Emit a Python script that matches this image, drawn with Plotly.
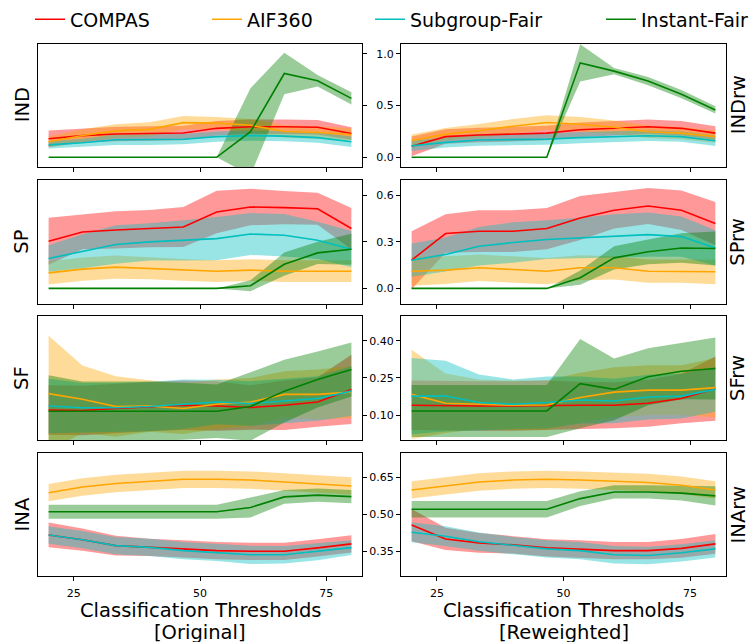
import plotly.graph_objects as go

# ---------------- data ----------------
thresholds = [20, 26.7, 33.3, 40, 46.7, 53.3, 60, 66.7, 73.3, 80]
methods = ["COMPAS", "AIF360", "Subgroup-Fair", "Instant-Fair"]
x_ticks = [25, 50, 75]

# IND (original)
ind_compas = [0.18, 0.21, 0.225, 0.23, 0.235, 0.28, 0.295, 0.295, 0.29, 0.23]
ind_compas_sd = [0.08, 0.07, 0.07, 0.07, 0.07, 0.07, 0.07, 0.07, 0.07, 0.06]
ind_aif = [0.15, 0.21, 0.255, 0.27, 0.335, 0.33, 0.31, 0.25, 0.24, 0.22]
ind_aif_sd = [0.05, 0.06, 0.065, 0.07, 0.065, 0.06, 0.06, 0.06, 0.06, 0.06]
ind_sub = [0.12, 0.14, 0.17, 0.17, 0.175, 0.2, 0.21, 0.205, 0.19, 0.15]
ind_sub_sd = [0.035, 0.04, 0.05, 0.05, 0.05, 0.05, 0.05, 0.05, 0.05, 0.05]
ind_inst = [0, 0, 0, 0, 0, 0, 0.247, 0.81, 0.74, 0.57]
ind_inst_sd = [0, 0, 0, 0, 0, 0, 0.42, 0.2, 0.055, 0.06]

# IND (reweighted)
indrw_compas = [0.106, 0.2, 0.215, 0.224, 0.234, 0.266, 0.28, 0.295, 0.28, 0.234]
indrw_compas_sd = [0.095, 0.07, 0.07, 0.07, 0.07, 0.07, 0.07, 0.07, 0.07, 0.065]
indrw_aif = [0.16, 0.224, 0.256, 0.3, 0.336, 0.32, 0.29, 0.247, 0.234, 0.2]
indrw_aif_sd = [0.06, 0.06, 0.065, 0.07, 0.07, 0.07, 0.065, 0.06, 0.06, 0.06]
indrw_sub = [0.11, 0.144, 0.167, 0.17, 0.176, 0.19, 0.2, 0.208, 0.2, 0.16]
indrw_sub_sd = [0.05, 0.05, 0.055, 0.055, 0.055, 0.055, 0.055, 0.05, 0.05, 0.05]
indrw_inst = [0, 0, 0, 0, 0, 0.913, 0.833, 0.737, 0.61, 0.458]
indrw_inst_sd = [0, 0, 0, 0, 0, 0.18, 0.03, 0.04, 0.04, 0.035]

# SP (original)
sp_compas = [0.304, 0.364, 0.377, 0.386, 0.396, 0.493, 0.525, 0.521, 0.514, 0.386]
sp_compas_sd = [0.152, 0.112, 0.12, 0.12, 0.129, 0.137, 0.118, 0.107, 0.103, 0.133]
sp_aif = [0.1, 0.124, 0.137, 0.129, 0.12, 0.111, 0.118, 0.111, 0.111, 0.111]
sp_aif_sd = [0.075, 0.075, 0.075, 0.07, 0.07, 0.07, 0.07, 0.07, 0.07, 0.07]
sp_sub = [0.193, 0.24, 0.283, 0.3, 0.31, 0.321, 0.351, 0.343, 0.31, 0.253]
sp_sub_sd = [0.086, 0.11, 0.124, 0.12, 0.13, 0.139, 0.135, 0.137, 0.12, 0.117]
sp_inst = [0, 0, 0, 0, 0, 0, 0.017, 0.156, 0.229, 0.253]
sp_inst_sd = [0, 0, 0, 0, 0, 0, 0.035, 0.075, 0.072, 0.1]

# SP (reweighted)
sprw_compas = [0.182, 0.354, 0.369, 0.369, 0.386, 0.454, 0.504, 0.531, 0.504, 0.418]
sprw_compas_sd = [0.187, 0.124, 0.135, 0.135, 0.133, 0.142, 0.117, 0.116, 0.128, 0.139]
sprw_aif = [0.111, 0.118, 0.133, 0.124, 0.111, 0.133, 0.133, 0.111, 0.111, 0.107]
sprw_aif_sd = [0.094, 0.09, 0.085, 0.085, 0.085, 0.08, 0.075, 0.075, 0.075, 0.08]
sprw_sub = [0.182, 0.219, 0.272, 0.296, 0.315, 0.326, 0.339, 0.347, 0.334, 0.261]
sprw_sub_sd = [0.107, 0.11, 0.124, 0.13, 0.125, 0.13, 0.14, 0.143, 0.13, 0.114]
sprw_inst = [0, 0, 0, 0, 0, 0.069, 0.197, 0.236, 0.261, 0.257]
sprw_inst_sd = [0, 0, 0, 0, 0, 0.046, 0.075, 0.08, 0.095, 0.11]

# SF (original)
sf_compas = [0.121, 0.119, 0.127, 0.135, 0.14, 0.137, 0.131, 0.14, 0.153, 0.204]
sf_compas_sd = [0.1, 0.1, 0.1, 0.1, 0.1, 0.1, 0.09, 0.1, 0.1, 0.14]
sf_aif = [0.187, 0.164, 0.135, 0.137, 0.127, 0.144, 0.153, 0.184, 0.184, 0.193]
sf_aif_sd = [0.233, 0.136, 0.122, 0.104, 0.103, 0.1, 0.097, 0.093, 0.1, 0.104]
sf_sub = [0.137, 0.13, 0.13, 0.135, 0.144, 0.153, 0.147, 0.157, 0.167, 0.197]
sf_sub_sd = [0.11, 0.1, 0.1, 0.1, 0.1, 0.09, 0.09, 0.09, 0.09, 0.1]
sf_inst = [0.116, 0.116, 0.116, 0.116, 0.116, 0.116, 0.135, 0.197, 0.244, 0.284]
sf_inst_sd = [0.145, 0.12, 0.12, 0.12, 0.115, 0.108, 0.138, 0.127, 0.113, 0.109]

# SF (reweighted)
sfrw_compas = [0.14, 0.137, 0.137, 0.137, 0.14, 0.14, 0.14, 0.148, 0.167, 0.207]
sfrw_compas_sd = [0.1, 0.1, 0.1, 0.1, 0.1, 0.095, 0.093, 0.095, 0.1, 0.13]
sfrw_aif = [0.184, 0.148, 0.144, 0.14, 0.141, 0.171, 0.193, 0.201, 0.201, 0.211]
sfrw_aif_sd = [0.18, 0.12, 0.1, 0.1, 0.1, 0.1, 0.1, 0.1, 0.1, 0.12]
sfrw_sub = [0.177, 0.177, 0.151, 0.144, 0.151, 0.161, 0.157, 0.173, 0.177, 0.204]
sfrw_sub_sd = [0.154, 0.143, 0.113, 0.1, 0.105, 0.095, 0.09, 0.09, 0.09, 0.09]
sfrw_inst = [0.117, 0.117, 0.117, 0.117, 0.117, 0.227, 0.204, 0.255, 0.277, 0.288]
sfrw_inst_sd = [0.105, 0.105, 0.105, 0.105, 0.105, 0.18, 0.125, 0.115, 0.113, 0.125]

# INA (original)
ina_compas = [0.417, 0.398, 0.374, 0.367, 0.361, 0.354, 0.351, 0.351, 0.365, 0.381]
ina_compas_sd = [0.05, 0.045, 0.04, 0.035, 0.035, 0.035, 0.035, 0.035, 0.035, 0.035]
ina_aif = [0.588, 0.611, 0.625, 0.635, 0.642, 0.642, 0.639, 0.631, 0.622, 0.615]
ina_aif_sd = [0.035, 0.035, 0.035, 0.035, 0.035, 0.035, 0.035, 0.035, 0.035, 0.035]
ina_sub = [0.417, 0.398, 0.374, 0.367, 0.354, 0.347, 0.337, 0.337, 0.35, 0.366]
ina_sub_sd = [0.035, 0.035, 0.035, 0.035, 0.035, 0.035, 0.037, 0.035, 0.035, 0.03]
ina_inst = [0.511, 0.511, 0.511, 0.511, 0.511, 0.511, 0.528, 0.571, 0.578, 0.572]
ina_inst_sd = [0.028, 0.028, 0.028, 0.028, 0.028, 0.028, 0.04, 0.028, 0.027, 0.027]

# INA (reweighted)
inarw_compas = [0.457, 0.401, 0.385, 0.377, 0.365, 0.361, 0.354, 0.354, 0.363, 0.381]
inarw_compas_sd = [0.065, 0.045, 0.04, 0.035, 0.035, 0.035, 0.035, 0.035, 0.038, 0.04]
inarw_aif = [0.599, 0.615, 0.631, 0.639, 0.642, 0.639, 0.635, 0.629, 0.618, 0.599]
inarw_aif_sd = [0.035, 0.035, 0.035, 0.035, 0.035, 0.035, 0.035, 0.035, 0.035, 0.035]
inarw_sub = [0.428, 0.412, 0.39, 0.374, 0.361, 0.354, 0.337, 0.334, 0.345, 0.361]
inarw_sub_sd = [0.04, 0.04, 0.037, 0.035, 0.035, 0.035, 0.035, 0.035, 0.035, 0.035]
inarw_inst = [0.521, 0.521, 0.521, 0.521, 0.521, 0.564, 0.591, 0.591, 0.586, 0.575]
inarw_inst_sd = [0.033, 0.033, 0.033, 0.033, 0.033, 0.03, 0.027, 0.027, 0.03, 0.039]

row_labels = ["IND", "SP", "SF", "INA"]
col_suffix = ["", "rw"]
x_title = "Classification Thresholds"
x_subtitles = ["[Original]", "[Reweighted]"]
y_ranges = [[-0.096, 1.1], [-0.098, 0.70], [0.0, 0.5], [0.25, 0.75]]
y_tickvals = [[0.0, 0.5, 1.0], [0.0, 0.3, 0.6], [0.10, 0.25, 0.40], [0.35, 0.50, 0.65]]
y_ticktext = [["0.0", "0.5", "1.0"], ["0.0", "0.3", "0.6"], ["0.10", "0.25", "0.40"], ["0.35", "0.50", "0.65"]]

panels = [
    [[(ind_compas, ind_compas_sd), (ind_aif, ind_aif_sd), (ind_sub, ind_sub_sd), (ind_inst, ind_inst_sd)],
     [(indrw_compas, indrw_compas_sd), (indrw_aif, indrw_aif_sd), (indrw_sub, indrw_sub_sd), (indrw_inst, indrw_inst_sd)]],
    [[(sp_compas, sp_compas_sd), (sp_aif, sp_aif_sd), (sp_sub, sp_sub_sd), (sp_inst, sp_inst_sd)],
     [(sprw_compas, sprw_compas_sd), (sprw_aif, sprw_aif_sd), (sprw_sub, sprw_sub_sd), (sprw_inst, sprw_inst_sd)]],
    [[(sf_compas, sf_compas_sd), (sf_aif, sf_aif_sd), (sf_sub, sf_sub_sd), (sf_inst, sf_inst_sd)],
     [(sfrw_compas, sfrw_compas_sd), (sfrw_aif, sfrw_aif_sd), (sfrw_sub, sfrw_sub_sd), (sfrw_inst, sfrw_inst_sd)]],
    [[(ina_compas, ina_compas_sd), (ina_aif, ina_aif_sd), (ina_sub, ina_sub_sd), (ina_inst, ina_inst_sd)],
     [(inarw_compas, inarw_compas_sd), (inarw_aif, inarw_aif_sd), (inarw_sub, inarw_sub_sd), (inarw_inst, inarw_inst_sd)]],
]

# ---------------- style ----------------
W, H = 755, 643
FONT = "DejaVu Sans"
line_colors = ["rgb(255,0,0)", "rgb(255,165,0)", "rgb(0,191,191)", "rgb(0,128,0)"]
fill_colors = ["rgba(255,0,0,0.4)", "rgba(255,165,0,0.4)", "rgba(0,191,191,0.4)", "rgba(0,128,0,0.4)"]
legend_names = ["legend", "legend2", "legend3", "legend4"]
legend_x_px = [30, 207, 370, 601]

col_px = [(38, 362), (401, 726)]
row_px = [(40.7, 165), (177.7, 302), (314.5, 439), (451.7, 576)]

fig = go.Figure()

def ax_id(r, c):
    return r * 2 + c + 1

for r in range(4):
    for c in range(2):
        i = ax_id(r, c)
        xa = "x" if i == 1 else f"x{i}"
        ya = "y" if i == 1 else f"y{i}"
        series = panels[r][c]
        # fills first
        for k, (m, sd) in enumerate(series):
            up = [a + b for a, b in zip(m, sd)]
            lo = [a - b for a, b in zip(m, sd)]
            fig.add_trace(go.Scatter(x=thresholds, y=up, mode="lines", line=dict(width=0),
                                     showlegend=False, hoverinfo="skip", xaxis=xa, yaxis=ya))
            fig.add_trace(go.Scatter(x=thresholds, y=lo, mode="lines", line=dict(width=0),
                                     fill="tonexty", fillcolor=fill_colors[k],
                                     showlegend=False, hoverinfo="skip", xaxis=xa, yaxis=ya))
        # lines on top
        for k, (m, sd) in enumerate(series):
            fig.add_trace(go.Scatter(x=thresholds, y=m, mode="lines",
                                     line=dict(color=line_colors[k], width=1.6),
                                     name=methods[k], showlegend=(i == 1),
                                     legend=legend_names[k],
                                     xaxis=xa, yaxis=ya))

layout = dict(
    width=W, height=H, margin=dict(l=0, r=0, t=0, b=0),
    paper_bgcolor="white", plot_bgcolor="white",
    font=dict(family=FONT, color="black"),
    showlegend=True,
)
for k, ln in enumerate(legend_names):
    layout[ln] = dict(orientation="h", x=legend_x_px[k] / W, y=1.004, xanchor="left", yanchor="top",
                      font=dict(size=19, family=FONT), bgcolor="rgba(0,0,0,0)",
                      traceorder="normal")

annotations = []
for r in range(4):
    for c in range(2):
        i = ax_id(r, c)
        xkey = "xaxis" if i == 1 else f"xaxis{i}"
        ykey = "yaxis" if i == 1 else f"yaxis{i}"
        x0, x1 = col_px[c]
        t0, b0 = row_px[r]
        layout[xkey] = dict(
            domain=[x0 / W, x1 / W], range=[17.9, 82.1],
            anchor="y" if i == 1 else f"y{i}",
            tickvals=x_ticks, ticktext=[str(v) for v in x_ticks],
            showticklabels=(r == 3), ticks="outside", ticklen=4, tickwidth=1,
            tickcolor="black", showline=True, linecolor="black", linewidth=1.2,
            mirror=True, showgrid=False, zeroline=False,
            tickfont=dict(size=11, family=FONT), ticklabelstandoff=2,
        )
        layout[ykey] = dict(
            domain=[1 - b0 / H, 1 - t0 / H], range=y_ranges[r],
            anchor="x" if i == 1 else f"x{i}",
            side="right" if c == 0 else "left",
            tickvals=y_tickvals[r], ticktext=y_ticktext[r],
            showticklabels=(c == 1), ticks="outside", ticklen=4, tickwidth=1,
            tickcolor="black", showline=True, linecolor="black", linewidth=1.2,
            mirror=True, showgrid=False, zeroline=False,
            tickfont=dict(size=11, family=FONT),
        )
        ylab = row_labels[r] + col_suffix[c]
        ax_x = 22 / W if c == 0 else 738 / W
        annotations.append(dict(text=ylab, x=ax_x, y=1 - (t0 + b0) / 2 / H,
                                xref="paper", yref="paper", showarrow=False,
                                textangle=-90, font=dict(size=19.5, family=FONT),
                                xanchor="center", yanchor="middle"))

for c in range(2):
    x0, x1 = col_px[c]
    annotations.append(dict(text=x_title, x=(x0 + x1) / 2 / W, y=1 - 610 / H,
                            xref="paper", yref="paper", showarrow=False, height=20,
                            font=dict(size=19.5, family=FONT), xanchor="center",
                            yanchor="middle"))
    annotations.append(dict(text=x_subtitles[c], x=(x0 + x1) / 2 / W, y=1 - 632 / H,
                            xref="paper", yref="paper", showarrow=False, height=20,
                            font=dict(size=19.5, family=FONT), xanchor="center",
                            yanchor="middle"))

layout["annotations"] = annotations
fig.update_layout(**layout)
fig.write_html("out.html")
